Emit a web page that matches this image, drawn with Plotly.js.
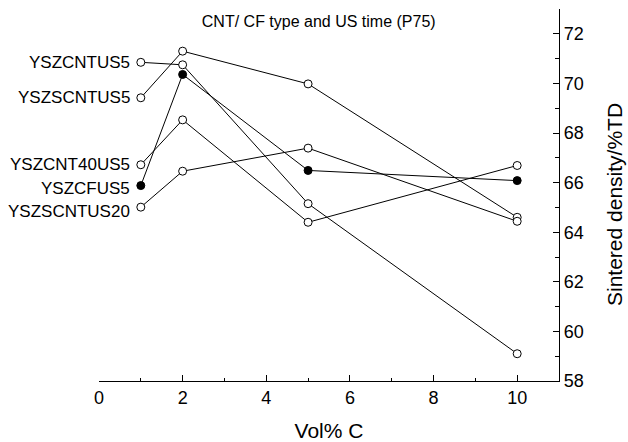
<!DOCTYPE html>
<html>
<head>
<meta charset="utf-8">
<script src="https://cdn.plot.ly/plotly-3.0.1.min.js"></script>
<style>html,body{margin:0;padding:0;background:#fff;}#chart{width:628px;height:442px;}</style>
</head>
<body>
<div id="chart"></div>
<script>
// Vol% C
const volC = [1, 2, 5, 10];
// Sintered density (%TD)
const seriesNames = ["YSZCNTUS5", "YSZSCNTUS5", "YSZCNT40US5", "YSZCFUS5", "YSZSCNTUS20"];
const ysZcntus5   = [70.85, 70.75, 65.15, 59.10];
const yszScntus5  = [69.42, 71.30, 69.98, 64.60];
const yszCnt40us5 = [66.72, 68.53, 64.40, 66.69];
const yszCfus5    = [65.88, 70.36, 66.49, 66.08];
const yszScntus20 = [65.01, 66.46, 67.39, 64.44];
const seriesValues = [ysZcntus5, yszScntus5, yszCnt40us5, yszCfus5, yszScntus20];
const filled = [false, false, false, true, false];
const xTicks = [0, 2, 4, 6, 8, 10];
const yTicks = [58, 60, 62, 64, 66, 68, 70, 72];

const FONT = "Liberation Sans, Arial, Helvetica, sans-serif";

const traces = seriesNames.map((name, i) => ({
  type: "scatter",
  mode: "lines+markers",
  name: name,
  x: volC,
  y: seriesValues[i],
  line: {color: "#000", width: 1},
  marker: {
    symbol: "circle",
    size: 8,
    color: filled[i] ? "#000" : "#fff",
    line: {color: "#000", width: 1}
  },
  showlegend: false,
  hoverinfo: "x+y+name"
}));

const labelShift = [0, 0, 0, -3, -4];
const annotations = seriesNames.map((name, i) => ({
  x: volC[0],
  y: seriesValues[i][0],
  xref: "x", yref: "y",
  text: name,
  showarrow: false,
  xanchor: "right",
  yanchor: "middle",
  xshift: -9,
  yshift: labelShift[i],
  font: {family: FONT, size: 17, color: "#000"}
}));

// y-axis title, placed as a rotated annotation
annotations.push({
  xref: "paper", yref: "paper",
  x: (614 - 99) / 460, y: (381 - 205) / 372,
  xanchor: "center", yanchor: "middle",
  text: "Sintered density/%TD",
  textangle: -90,
  showarrow: false,
  font: {family: FONT, size: 21, color: "#000"}
});

const layout = {
  width: 628,
  height: 442,
  paper_bgcolor: "#fff",
  plot_bgcolor: "#fff",
  margin: {l: 99, r: 69, t: 9, b: 61},
  font: {family: FONT, color: "#000"},
  title: {
    text: "CNT/ CF type and US time (P75)",
    font: {family: FONT, size: 16, color: "#000"},
    x: 300 / 628, xref: "paper", xanchor: "center",
    y: 1 - 21 / 442, yref: "container", yanchor: "middle"
  },
  xaxis: {
    range: [0, 11],
    tickvals: xTicks,
    ticktext: xTicks.map(String),
    showline: true, linecolor: "#000", linewidth: 1.2,
    ticks: "inside", ticklen: 6, tickcolor: "#000", tickwidth: 1,
    minor: {dtick: 1, ticks: "inside", ticklen: 3, tickcolor: "#000", tickwidth: 1},
    showgrid: false, zeroline: false,
    tickfont: {family: FONT, size: 18, color: "#000"},
    title: {text: "Vol% C", font: {family: FONT, size: 21, color: "#000"}, standoff: 17}
  },
  yaxis: {
    range: [58, 73],
    side: "right",
    tickvals: yTicks,
    ticktext: yTicks.map(String),
    showline: true, linecolor: "#000", linewidth: 1.2,
    ticks: "inside", ticklen: 6, tickcolor: "#000", tickwidth: 1,
    minor: {dtick: 1, ticks: "inside", ticklen: 4, tickcolor: "#000", tickwidth: 1},
    showgrid: false, zeroline: false,
    tickfont: {family: FONT, size: 18, color: "#000"}
  },
  annotations: annotations
};

Plotly.newPlot("chart", traces, layout, {displayModeBar: false, staticPlot: true});
</script>
</body>
</html>
